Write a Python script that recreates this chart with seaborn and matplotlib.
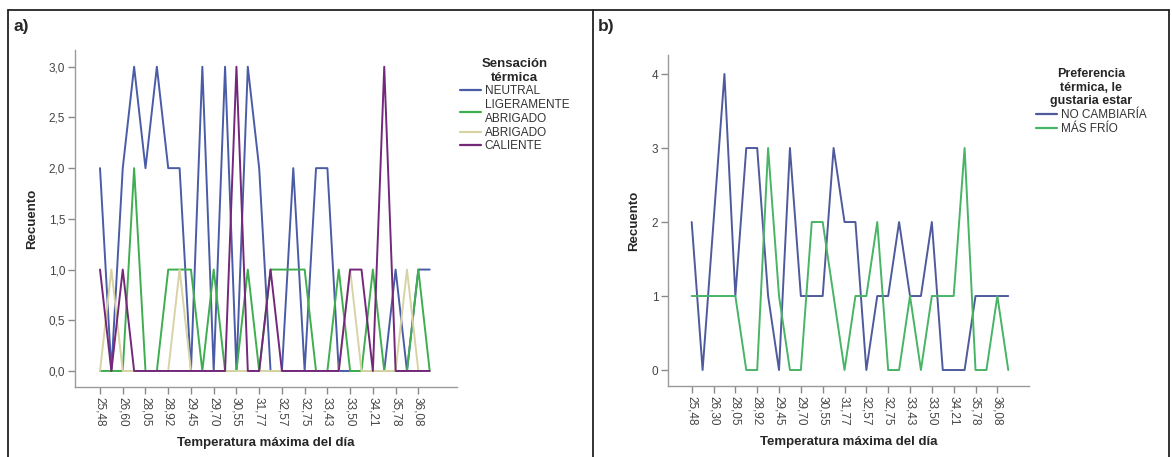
# Recuento por temperatura máxima del día - paneles a) y b)

import numpy as np
import pandas as pd
import matplotlib.pyplot as plt
from matplotlib.lines import Line2D
import seaborn as sns

# --- Datos (30 categorías de temperatura, etiqueta cada 2) ---
temp_labels_a = ['25,48', '26,60', '28,05', '28,92', '29,45', '29,70', '30,55', '31,77',
                 '32,57', '32,75', '33,43', '33,50', '34,21', '35,78', '36,08']
temp_labels_b = ['25,48', '26,30', '28,05', '28,92', '29,45', '29,70', '30,55', '31,77',
                 '32,57', '32,75', '33,43', '33,50', '34,21', '35,78', '36,08']

neutral = [2, 0, 2, 3, 2, 3, 2, 2, 0, 3, 0, 3, 0, 3, 2, 0, 0, 2, 0, 2, 2, 0, 0, 0, 0, 0, 1, 0, 1, 1]
lig_abrigado = [0, 0, 0, 2, 0, 0, 1, 1, 1, 0, 1, 0, 0, 1, 0, 1, 1, 1, 1, 0, 0, 1, 0, 0, 1, 0, 0, 0, 1, 0]
abrigado = [0, 1, 0, 0, 0, 0, 0, 1, 0, 0, 0, 0, 0, 0, 0, 0, 0, 0, 0, 0, 0, 0, 1, 0, 0, 0, 0, 1, 0, 0]
caliente = [1, 0, 1, 0, 0, 0, 0, 0, 0, 0, 0, 0, 3, 0, 0, 1, 0, 0, 0, 0, 0, 0, 1, 1, 0, 3, 0, 0, 0, 0]

no_cambiaria = [2, 0, 2, 4, 1, 3, 3, 1, 0, 3, 1, 1, 1, 3, 2, 2, 0, 1, 1, 2, 1, 1, 2, 0, 0, 0, 1, 1, 1, 1]
mas_frio = [1, 1, 1, 1, 1, 0, 0, 3, 1, 0, 0, 2, 2, 1, 0, 1, 1, 2, 0, 0, 1, 0, 1, 1, 1, 3, 0, 0, 1, 0]

series_a = ['NEUTRAL', 'LIGERAMENTE\nABRIGADO', 'ABRIGADO', 'CALIENTE']
series_b = ['NO CAMBIARÍA', 'MÁS FRÍO']
yticks_a = ['0,0', '0,5', '1,0', '1,5', '2,0', '2,5', '3,0']
yticks_b = ['0', '1', '2', '3', '4']

colores_a = {'NEUTRAL': '#4a5ca6', 'LIGERAMENTE\nABRIGADO': '#3fae4f',
             'ABRIGADO': '#d8d3a4', 'CALIENTE': '#73287a'}
colores_b = {'NO CAMBIARÍA': '#4f5a9c', 'MÁS FRÍO': '#48b466'}

# tabla larga para seaborn
pos = np.arange(len(neutral))
df_a = pd.concat([
    pd.DataFrame({'pos': pos, 'recuento': vals, 'serie': nombre})
    for nombre, vals in zip(series_a, [neutral, lig_abrigado, abrigado, caliente])
])
df_b = pd.concat([
    pd.DataFrame({'pos': pos, 'recuento': vals, 'serie': nombre})
    for nombre, vals in zip(series_b, [no_cambiaria, mas_frio])
])

sns.set_theme(style='ticks')
plt.rcParams['font.family'] = ['Liberation Sans', 'DejaVu Sans']

W, H = 1172, 457
fig = plt.figure(figsize=(W / 100, H / 100), dpi=100)

# marco tipo tabla
for x0, y0, x1, y1 in [(8, 10, 1169, 10), (8, 10, 8, H), (593, 10, 593, H), (1169, 10, 1169, H)]:
    fig.add_artist(Line2D([x0 / W, x1 / W], [1 - y0 / H, 1 - y1 / H],
                          color='#222222', lw=1.3, transform=fig.transFigure))


def estilo_ejes(ax, yticks, ylabels, xlabels, ylim, xlim):
    ax.set_xticks(np.arange(0, len(pos), 2))
    ax.set_xticklabels(xlabels, rotation=-90, va='top', ha='center')
    ax.set_yticks(np.arange(len(ylabels)) * yticks)
    ax.set_yticklabels(ylabels)
    ax.set_ylim(*ylim)
    ax.set_xlim(*xlim)
    ax.set_xlabel('Temperatura máxima del día', fontsize=9.5, fontweight='bold', labelpad=8)
    ax.set_ylabel('Recuento', fontsize=9.5, fontweight='bold', labelpad=8)
    ax.tick_params(direction='out', length=5, width=1, color='#8a8a8a',
                   labelcolor='#444444', labelsize=8.5, pad=2)
    sns.despine(ax=ax)
    for s in ['left', 'bottom']:
        ax.spines[s].set_color('#9a9a9a')
        ax.spines[s].set_linewidth(1)
    ax.grid(False)


def estilo_leyenda(leg):
    leg.get_title().set_fontweight('bold')
    leg.get_title().set_multialignment('center')
    for t in leg.get_texts():
        t.set_color('#333333')


# ---- panel a ----
ax1 = fig.add_axes([75 / W, 1 - 387 / H, (457 - 75) / W, (387 - 50) / H])
sns.lineplot(data=df_a, x='pos', y='recuento', hue='serie', hue_order=series_a,
             palette=colores_a, linewidth=1.4, legend=False, ax=ax1)
estilo_ejes(ax1, 0.5, yticks_a, temp_labels_a, (-0.158, 3.165), (-2.2, 31.4))
h_a = [Line2D([], [], color=colores_a[s], lw=1.6) for s in series_a]
leg1 = ax1.legend(h_a, series_a, title='Sensación\ntérmica', loc='upper left',
                  bbox_to_anchor=(455 / W, 1 - 53 / H), bbox_transform=fig.transFigure,
                  frameon=False, fontsize=8.5, title_fontsize=9.5, handlelength=1.8,
                  handletextpad=0.3, labelspacing=0.15, borderaxespad=0)
estilo_leyenda(leg1)
fig.text(13 / W, 1 - 27 / H, 'a)', fontsize=12.5, fontweight='bold', va='center')

# ---- panel b ----
ax2 = fig.add_axes([668 / W, 1 - 386 / H, (1029 - 668) / W, (386 - 55) / H])
sns.lineplot(data=df_b, x='pos', y='recuento', hue='serie', hue_order=series_b,
             palette=colores_b, linewidth=1.4, legend=False, ax=ax2)
estilo_ejes(ax2, 1, yticks_b, temp_labels_b, (-0.216, 4.257), (-2.17, 30.9))
h_b = [Line2D([], [], color=colores_b[s], lw=1.6) for s in series_b]
leg2 = ax2.legend(h_b, series_b, title='Preferencia\ntérmica, le\ngustaria estar',
                  loc='upper left', bbox_to_anchor=(1031 / W, 1 - 63 / H),
                  bbox_transform=fig.transFigure, frameon=False, fontsize=8.5,
                  title_fontsize=9, handlelength=1.8, handletextpad=0.3,
                  labelspacing=0.15, borderaxespad=0)
estilo_leyenda(leg2)
fig.text(598 / W, 1 - 27 / H, 'b)', fontsize=12.5, fontweight='bold', va='center')

plt.savefig('out.png', dpi=100)
